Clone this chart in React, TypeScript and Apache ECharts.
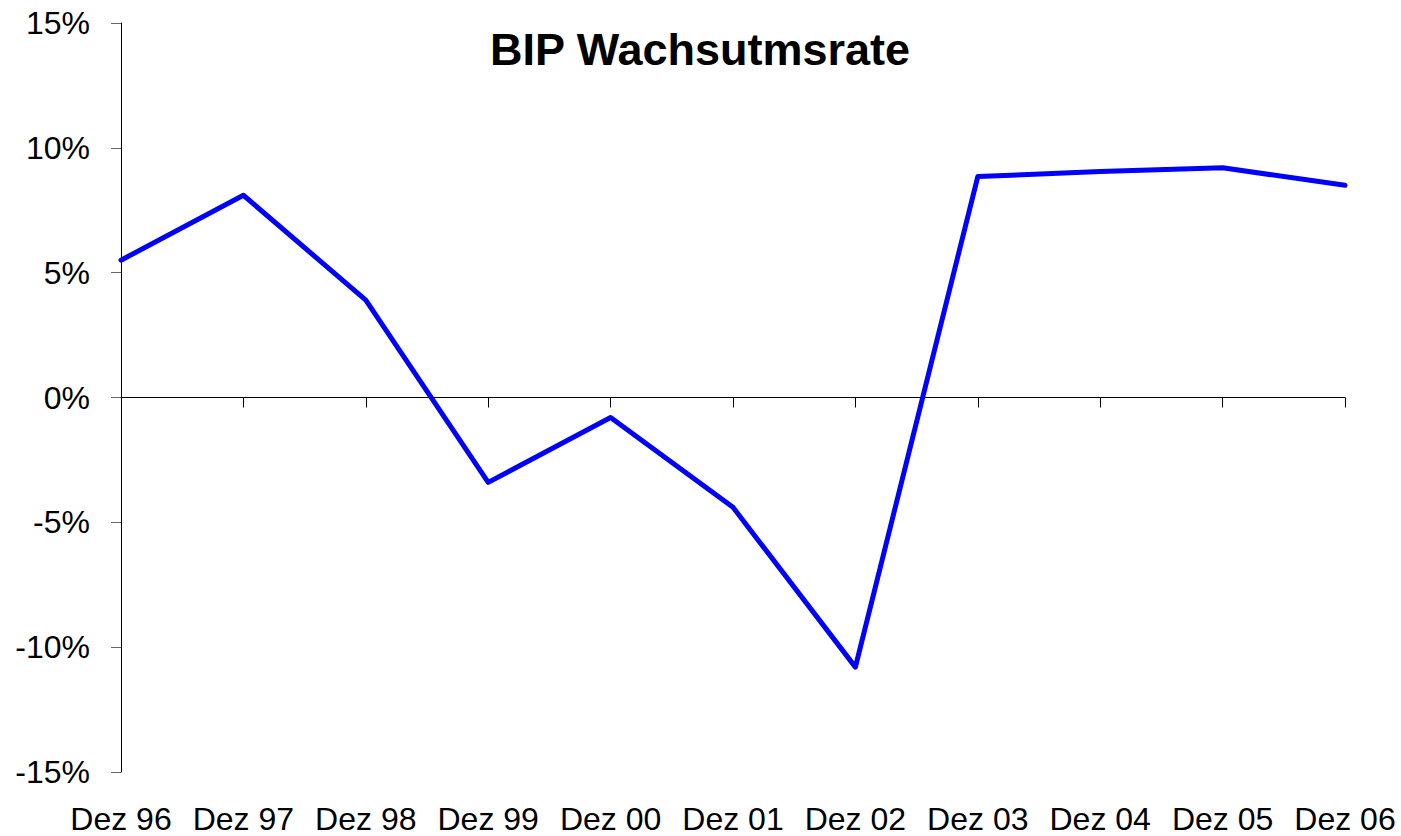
import React, { useEffect, useRef } from "react";
import * as echarts from "echarts";

const categories = ["Dez 96", "Dez 97", "Dez 98", "Dez 99", "Dez 00", "Dez 01", "Dez 02", "Dez 03", "Dez 04", "Dez 05", "Dez 06"];
const growth = [5.5, 8.1, 3.9, -3.4, -0.8, -4.4, -10.8, 8.85, 9.05, 9.2, 8.5];
const titleText = "BIP Wachsutmsrate";

export default function App() {
  const ref = useRef<HTMLDivElement>(null);
  useEffect(() => {
    if (!ref.current) return;
    const chart = echarts.init(ref.current, null, { renderer: "svg" });
    const font = "Liberation Sans, Arial, sans-serif";
    chart.setOption({
      animation: false,
      backgroundColor: "#ffffff",
      title: {
        text: titleText,
        left: 695,
        top: 22,
        textAlign: "center",
        textStyle: { fontFamily: font, fontSize: 45, fontWeight: "bold", color: "#000" },
      },
      grid: { left: 121, right: 56, top: 23, bottom: 64, containLabel: false },
      xAxis: [
        {
          type: "category",
          data: categories,
          boundaryGap: false,
          axisLine: { onZero: true, lineStyle: { color: "#000", width: 1 } },
          axisTick: { show: true, inside: false, length: 10, lineStyle: { color: "#000" }, alignWithLabel: true },
          axisLabel: { show: false },
          splitLine: { show: false },
        },
        {
          type: "category",
          data: categories,
          boundaryGap: false,
          position: "bottom",
          axisLine: { show: false, onZero: false },
          axisTick: { show: false },
          axisLabel: { show: true, margin: 31, interval: 0, fontFamily: font, fontSize: 32, color: "#000" },
          splitLine: { show: false },
        },
      ],
      yAxis: {
        type: "value",
        min: -15,
        max: 15,
        interval: 5,
        axisLine: { show: true, lineStyle: { color: "#000", width: 1 } },
        axisTick: { show: true, length: 10, lineStyle: { color: "#666" } },
        axisLabel: { formatter: "{value}%", margin: 31, fontFamily: font, fontSize: 32, color: "#000" },
        splitLine: { show: false },
      },
      series: [
        {
          type: "line",
          data: growth,
          xAxisIndex: 0,
          showSymbol: false,
          symbol: "none",
          lineStyle: { color: "#0000ff", width: 5, cap: "round", join: "round" },
          itemStyle: { color: "#0000ff" },
        },
      ],
    });
    return () => chart.dispose();
  }, []);
  return <div ref={ref} style={{ width: 1401, height: 836, position: "absolute", left: 0, top: 0 }} />;
}
